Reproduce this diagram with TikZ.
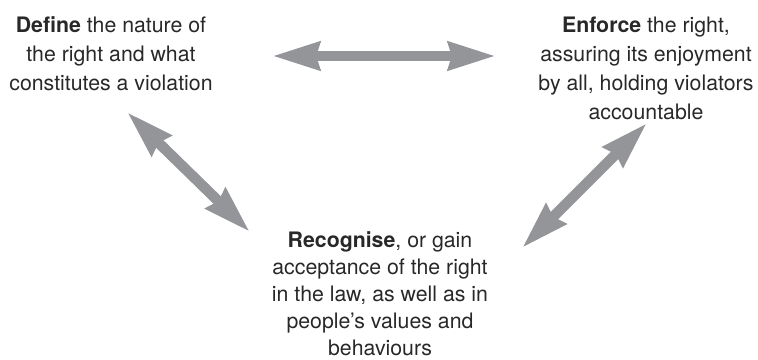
\documentclass[tikz,border=0pt]{standalone}
\usepackage{fontspec}
\setmainfont{TeX Gyre Heros}
\usetikzlibrary{arrows.meta}
\definecolor{arrowgray}{RGB}{148,149,153}
\definecolor{textdark}{RGB}{40,40,40}
\tikzset{
  label text/.style={align=center, inner sep=0pt, text=textdark,
    font=\fontsize{21.3}{29}\selectfont, anchor=base},
  bigarrow/.style={draw=arrowgray, line width=10.5pt,
    {Stealth[length=47pt,width=27pt,inset=3pt,fill=arrowgray]}-{Stealth[length=47pt,width=27pt,inset=3pt,fill=arrowgray]}}
}
\begin{document}
\begin{tikzpicture}[x=1pt,y=-1pt]
\useasboundingbox (0,0) rectangle (758,359);
\node[label text] (define) at (111,90) {\textbf{Define} the nature of\\the right and what\\constitutes a violation};
\node[label text] (enforce) at (646,119) {\textbf{Enforce} the right,\\assuring its enjoyment\\by all, holding violators\\accountable};
\node[label text, font=\fontsize{21.3}{27}\selectfont] (recog) at (380,355) {\textbf{Recognise}, or gain\\acceptance of the right\\in the law, as well as in\\people’s values and\\behaviours};
\coordinate (a1) at (272,56);
\coordinate (a2) at (496,56);
\coordinate (b1) at (127,112);
\coordinate (b2) at (250,232);
\coordinate (c1) at (647,123);
\coordinate (c2) at (522,248);
\draw[bigarrow] (a1) -- (a2);
\draw[bigarrow] (b1) -- (b2);
\draw[bigarrow] (c1) -- (c2);
\end{tikzpicture}
\end{document}
